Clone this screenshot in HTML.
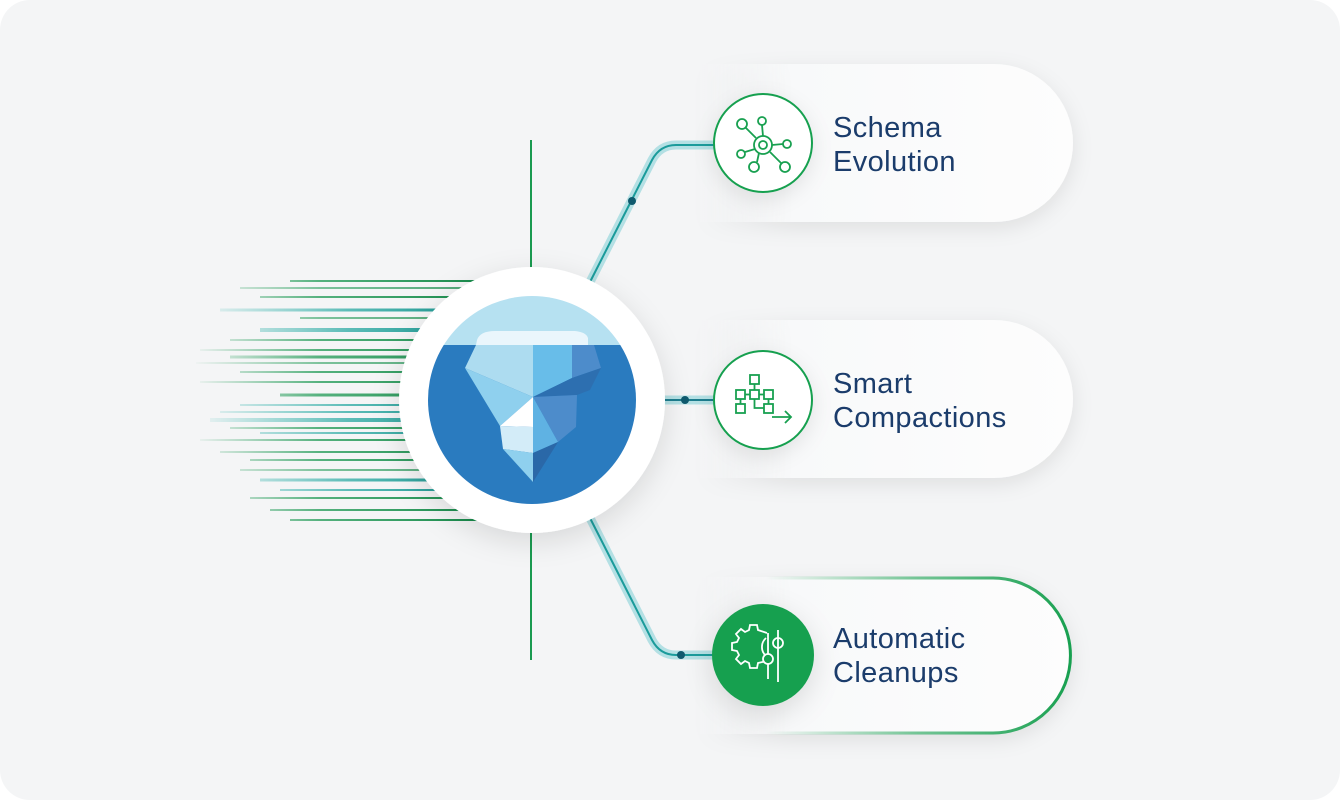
<!DOCTYPE html>
<html><head><meta charset="utf-8"><style>
html,body{margin:0;padding:0;background:#fff;}
svg{display:block}
text{font-family:"Liberation Sans",sans-serif;font-size:29px;letter-spacing:0.4px;fill:#1b3c6b;}
</style></head><body>
<svg width="1340" height="800" viewBox="0 0 1340 800" xmlns="http://www.w3.org/2000/svg">
<defs>
<linearGradient id="gG" gradientUnits="userSpaceOnUse" x1="190" y1="0" x2="480" y2="0"><stop offset="0" stop-color="#1f9a55" stop-opacity="0"/><stop offset="0.45" stop-color="#1f9a55" stop-opacity="0.75"/><stop offset="1" stop-color="#178a4a"/></linearGradient>
<linearGradient id="gT" gradientUnits="userSpaceOnUse" x1="190" y1="0" x2="480" y2="0"><stop offset="0" stop-color="#20b0a8" stop-opacity="0"/><stop offset="0.55" stop-color="#1aa39c" stop-opacity="0.7"/><stop offset="1" stop-color="#0f8f88"/></linearGradient>
<linearGradient id="pill" x1="0" x2="1"><stop offset="0" stop-color="#f4f5f6" stop-opacity="0"/><stop offset="0.25" stop-color="#f8f9fa"/><stop offset="1" stop-color="#fdfdfd"/></linearGradient>
<linearGradient id="gb" x1="0" x2="1"><stop offset="0" stop-color="#18a050" stop-opacity="0"/><stop offset="0.5" stop-color="#18a050" stop-opacity="0.6"/><stop offset="1" stop-color="#18a050"/></linearGradient>
<filter id="sh" x="-30%" y="-30%" width="160%" height="160%"><feDropShadow dx="0" dy="8" stdDeviation="14" flood-color="#000" flood-opacity="0.12"/></filter>
<filter id="sh2" x="-30%" y="-30%" width="160%" height="160%"><feDropShadow dx="0" dy="6" stdDeviation="10" flood-color="#000" flood-opacity="0.09"/></filter>
<clipPath id="cc"><circle cx="532" cy="400" r="104"/></clipPath>
</defs>
<rect x="0" y="0" width="1340" height="800" rx="30" fill="#f4f5f6"/>

<!-- speed lines -->
<g>
<line x1="290" y1="281" x2="480" y2="281" stroke="url(#gG)" stroke-width="2"/>
<line x1="240" y1="288" x2="480" y2="288" stroke="url(#gG)" stroke-width="1.5"/>
<line x1="260" y1="297" x2="470" y2="297" stroke="url(#gG)" stroke-width="2"/>
<line x1="220" y1="310" x2="450" y2="310" stroke="url(#gT)" stroke-width="3"/>
<line x1="300" y1="318" x2="450" y2="318" stroke="url(#gG)" stroke-width="1.5"/>
<line x1="260" y1="330" x2="430" y2="330" stroke="url(#gT)" stroke-width="4"/>
<line x1="230" y1="340" x2="430" y2="340" stroke="url(#gG)" stroke-width="2"/>
<line x1="200" y1="350" x2="420" y2="350" stroke="url(#gG)" stroke-width="2"/>
<line x1="230" y1="357" x2="420" y2="357" stroke="url(#gG)" stroke-width="3"/>
<line x1="196" y1="363" x2="410" y2="363" stroke="url(#gG)" stroke-width="1.5"/>
<line x1="240" y1="372" x2="410" y2="372" stroke="url(#gG)" stroke-width="2"/>
<line x1="200" y1="382" x2="410" y2="382" stroke="url(#gG)" stroke-width="2"/>
<line x1="280" y1="395" x2="410" y2="395" stroke="url(#gG)" stroke-width="3"/>
<line x1="240" y1="405" x2="410" y2="405" stroke="url(#gT)" stroke-width="2"/>
<line x1="220" y1="412" x2="410" y2="412" stroke="url(#gT)" stroke-width="2"/>
<line x1="210" y1="420" x2="410" y2="420" stroke="url(#gT)" stroke-width="4"/>
<line x1="230" y1="428" x2="410" y2="428" stroke="url(#gG)" stroke-width="2"/>
<line x1="260" y1="433" x2="410" y2="433" stroke="url(#gT)" stroke-width="2"/>
<line x1="200" y1="440" x2="415" y2="440" stroke="url(#gG)" stroke-width="2"/>
<line x1="220" y1="452" x2="420" y2="452" stroke="url(#gG)" stroke-width="2"/>
<line x1="250" y1="460" x2="425" y2="460" stroke="url(#gG)" stroke-width="2"/>
<line x1="240" y1="470" x2="430" y2="470" stroke="url(#gG)" stroke-width="1.5"/>
<line x1="260" y1="480" x2="440" y2="480" stroke="url(#gT)" stroke-width="3"/>
<line x1="280" y1="490" x2="450" y2="490" stroke="url(#gT)" stroke-width="2"/>
<line x1="250" y1="498" x2="460" y2="498" stroke="url(#gG)" stroke-width="2"/>
<line x1="270" y1="510" x2="470" y2="510" stroke="url(#gG)" stroke-width="2"/>
<line x1="290" y1="520" x2="480" y2="520" stroke="url(#gG)" stroke-width="2"/>
</g>

<!-- vertical line -->
<line x1="531" y1="140" x2="531" y2="660" stroke="#1a9a50" stroke-width="2"/>

<!-- pills -->
<path d="M700 64 H994 A79 79 0 0 1 994 222 H700 Z" fill="url(#pill)" filter="url(#sh2)"/>
<path d="M700 320 H994 A79 79 0 0 1 994 478 H700 Z" fill="url(#pill)" filter="url(#sh2)"/>
<path d="M700 577 H993 A78.5 78.5 0 0 1 993 734 H700 Z" fill="url(#pill)" filter="url(#sh2)"/>
<path d="M765 578 H993 A77.5 77.5 0 0 1 993 733 H765" fill="none" stroke="url(#gb)" stroke-width="3"/>

<!-- connectors -->
<g fill="none" stroke-linecap="round" stroke-linejoin="round">
<path d="M590 282 L652 160 Q660 145 676 145 H714" stroke="#b4e0e4" stroke-width="9"/>
<path d="M590 282 L652 160 Q660 145 676 145 H714" stroke="#1b9b9b" stroke-width="2"/>
<path d="M664 400 H714" stroke="#b4e0e4" stroke-width="9"/>
<path d="M664 400 H714" stroke="#1d7d8e" stroke-width="2"/>
<path d="M590 518 L652 640 Q660 655 676 655 H714" stroke="#b4e0e4" stroke-width="9"/>
<path d="M590 518 L652 640 Q660 655 676 655 H714" stroke="#1b9b9b" stroke-width="2"/>
</g>
<circle cx="632" cy="201" r="4" fill="#0f5a6e"/>
<circle cx="685" cy="400" r="4" fill="#0f5a6e"/>
<circle cx="681" cy="655" r="4" fill="#0f5a6e"/>

<!-- main circle -->
<circle cx="532" cy="400" r="133" fill="#fff" filter="url(#sh)"/>
<g clip-path="url(#cc)">
<rect x="420" y="290" width="230" height="56" fill="#b6e1f1"/>
<rect x="420" y="345" width="230" height="170" fill="#2a7bbf"/>
<path d="M477 340 Q480 331 495 331 H575 Q586 332 588 338 L588 345 H476 Z" fill="#eaf6fc"/>
<polygon points="476,345 533,345 533,397 465,368" fill="#addcf0"/>
<polygon points="465,368 533,397 500,426" fill="#8fd0ee"/>
<polygon points="533,345 572,345 572,378 533,397" fill="#68bde9"/>
<polygon points="572,345 594,345 601,368 572,378" fill="#4d8ccb"/>
<polygon points="533,397 572,378 601,368 590,390 577,395" fill="#2d6fb0"/>
<polygon points="533,397 577,395 576,427 558,442" fill="#4d8ccb"/>
<polygon points="533,397 533,427 500,426" fill="#ffffff"/>
<polygon points="500,426 533,427 533,453 503,449" fill="#d3ecf8"/>
<polygon points="533,397 558,442 533,453" fill="#5fb2e3"/>
<polygon points="503,449 533,453 533,482" fill="#8fd0ee"/>
<polygon points="533,453 558,442 533,482" fill="#2a68a8"/>
</g>

<!-- icon circles -->
<circle cx="763" cy="143" r="49" fill="#fff" stroke="#18a050" stroke-width="2" filter="url(#sh2)"/>
<circle cx="763" cy="400" r="49" fill="#fff" stroke="#18a050" stroke-width="2" filter="url(#sh2)"/>
<circle cx="763" cy="655" r="51" fill="#17a04f" filter="url(#sh)"/>

<!-- schema icon -->
<g fill="none" stroke="#18a050" stroke-width="1.8">
<circle cx="763" cy="145" r="9"/><circle cx="763" cy="145" r="4"/>
<circle cx="742" cy="124" r="5"/><circle cx="762" cy="121" r="4"/>
<circle cx="787" cy="144" r="4"/><circle cx="741" cy="154" r="4"/>
<circle cx="754" cy="167" r="5"/><circle cx="785" cy="167" r="5"/>
<line x1="746" y1="128" x2="756" y2="138"/><line x1="762" y1="125" x2="763" y2="136"/>
<line x1="772" y1="145" x2="783" y2="144"/><line x1="745" y1="152" x2="755" y2="149"/>
<line x1="757" y1="162" x2="759" y2="153"/><line x1="781" y1="163" x2="770" y2="152"/>
</g>
<!-- smart icon -->
<g fill="none" stroke="#18a050" stroke-width="1.8">
<rect x="750" y="375" width="9" height="9"/>
<rect x="736" y="390" width="9" height="9"/><rect x="750" y="390" width="9" height="9"/><rect x="764" y="390" width="9" height="9"/>
<rect x="736" y="404" width="9" height="9"/><rect x="764" y="404" width="9" height="9"/>
<line x1="754.5" y1="384" x2="754.5" y2="390"/><line x1="745" y1="394.5" x2="750" y2="394.5"/><line x1="759" y1="394.5" x2="764" y2="394.5"/>
<line x1="740.5" y1="399" x2="740.5" y2="404"/><line x1="768.5" y1="399" x2="768.5" y2="404"/>
<polyline points="754.5,399 754.5,408 764,408"/>
<polyline points="772,417 791,417"/><polyline points="785,411 791,417 785,423"/>
</g>
<!-- gear icon -->
<g fill="none" stroke="#fff" stroke-width="1.8">
<path d="M767 633 L758 630 L757 625 L750 625 L749 630 L745 632 L741 629 L736 634 L739 638 L737 642 L732 643 L732 650 L737 651 L739 655 L736 659 L741 664 L745 661 L749 663 L750 668 L757 668 L758 663 L767 661"/>
<path d="M766 638 A12 12 0 0 0 766 656"/>
<line x1="778" y1="630" x2="778" y2="682"/><circle cx="778" cy="643" r="5"/>
<line x1="768" y1="633" x2="768" y2="679"/><circle cx="768" cy="659" r="5" fill="#17a04f"/>
</g>

<!-- labels -->
<text x="833" y="137">Schema</text><text x="833" y="171">Evolution</text>
<text x="833" y="393">Smart</text><text x="833" y="427">Compactions</text>
<text x="833" y="648">Automatic</text><text x="833" y="682">Cleanups</text>
</svg>
</body></html>
